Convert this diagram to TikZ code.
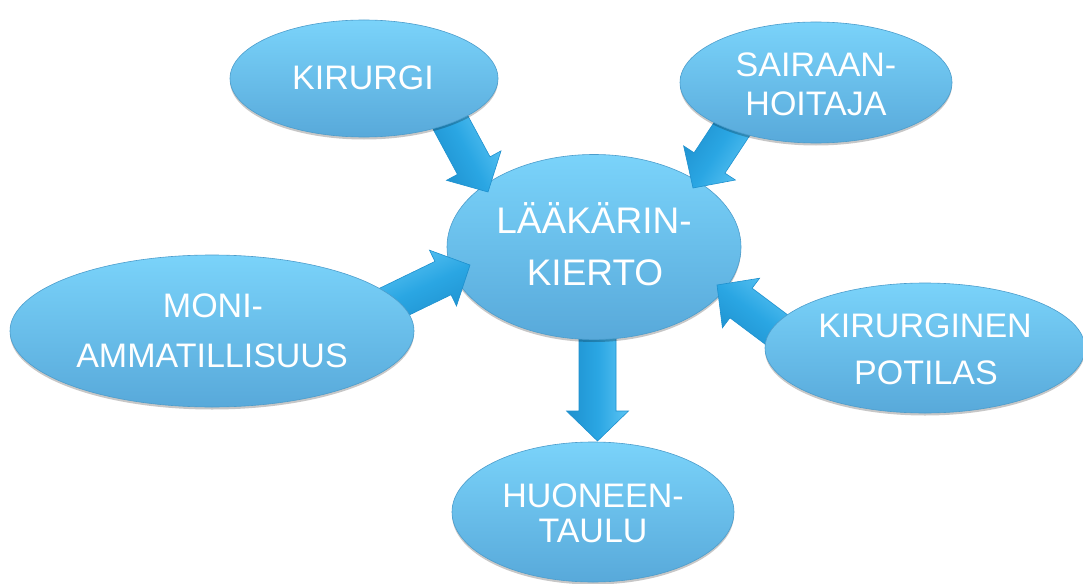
\documentclass[tikz,border=0pt]{standalone}
\usepackage{fontspec}
\setmainfont{Liberation Sans}
\usetikzlibrary{shapes.geometric,calc,shadows}
\definecolor{btop}{HTML}{7AD3FA}
\definecolor{bbot}{HTML}{58A9DA}
\definecolor{bedge}{HTML}{4C9DCC}
\definecolor{alight}{HTML}{5CC4F3}
\definecolor{amain}{HTML}{2AA6E3}
\definecolor{adark}{HTML}{1E90CE}
\newcommand\blockarrow[4]{%
  \coordinate (#4h) at ($(#2)!30pt!(#1)$);
  \shade[arrowstyle, shading angle=#3]
    ($(#1)!18.5pt!90:(#2)$) -- ($(#4h)!18.5pt!90:(#2)$) -- ($(#4h)!31pt!90:(#2)$) -- (#2)
    -- ($(#4h)!31pt!-90:(#2)$) -- ($(#4h)!18.5pt!-90:(#2)$) -- ($(#1)!18.5pt!-90:(#2)$) -- cycle;
}
\begin{document}
\begin{tikzpicture}[x=1pt,y=-1pt,
  bubble/.style={ellipse, inner sep=0pt, outer sep=0pt, top color=btop, bottom color=bbot,
    draw=bedge, line width=0.6pt,
    drop shadow={opacity=0.22, shadow xshift=0pt, shadow yshift=-2.5pt, fill=black}},
  arrowstyle/.style={top color=alight, bottom color=adark, middle color=amain,
    draw=adark, line width=0.6pt, line join=miter},
  lbl/.style={text=white, font=\fontsize{34}{40}\selectfont, inner sep=0pt, anchor=base},
  lblbig/.style={lbl, font=\fontsize{37}{44}\selectfont}]
\clip (0,0) rectangle (1083,583);
\fill[white] (0,0) rectangle (1083,583);

% arrow coordinates
\coordinate (t5) at (597.5,320);
\coordinate (p5) at (597.5,441);
\coordinate (t1) at (447.5,117);
\coordinate (p1) at (488,192);
\coordinate (t2) at (739.8,117);
\coordinate (p2) at (693,188);
\coordinate (t3) at (380,308.6);
\coordinate (p3) at (470,265);
\coordinate (t4) at (789,339);
\coordinate (p4) at (717,285);

% down arrow (behind centre)
\blockarrow{t5}{p5}{-90}{a5}

% centre
\node[bubble, minimum width=294pt, minimum height=185pt] (lk) at (594,247) {};
\node[lblbig] (lk1) at (594,233) {LÄÄKÄRIN-};
\node[lblbig] (lk2) at (595,285) {KIERTO};

% incoming arrows
\blockarrow{t1}{p1}{-62}{a1}
\blockarrow{t2}{p2}{-123}{a2}
\blockarrow{t3}{p3}{25}{a3}
\blockarrow{t4}{p4}{-37}{a4}

% outer bubbles
\node[bubble, minimum width=268pt, minimum height=117pt] (kir) at (364,78.5) {};
\node[lbl] (kir1) at (363,90) {KIRURGI};

\node[bubble, minimum width=272pt, minimum height=121pt] (sai) at (816,82.5) {};
\node[lbl] (sai1) at (816,77) {SAIRAAN-};
\node[lbl] (sai2) at (816,115) {HOITAJA};

\node[bubble, minimum width=404pt, minimum height=152pt] (moni) at (212,331) {};
\node[lbl] (moni1) at (213,317) {MONI-};
\node[lbl] (moni2) at (212,367) {AMMATILLISUUS};

\node[bubble, minimum width=320pt, minimum height=130pt] (kp) at (925,348) {};
\node[lbl] (kp1) at (925,337) {KIRURGINEN};
\node[lbl] (kp2) at (926,384) {POTILAS};

\node[bubble, minimum width=282pt, minimum height=140pt] (huo) at (593,512) {};
\node[lbl] (huo1) at (593,507) {HUONEEN-};
\node[lbl] (huo2) at (593,542) {TAULU};
\end{tikzpicture}
\end{document}
